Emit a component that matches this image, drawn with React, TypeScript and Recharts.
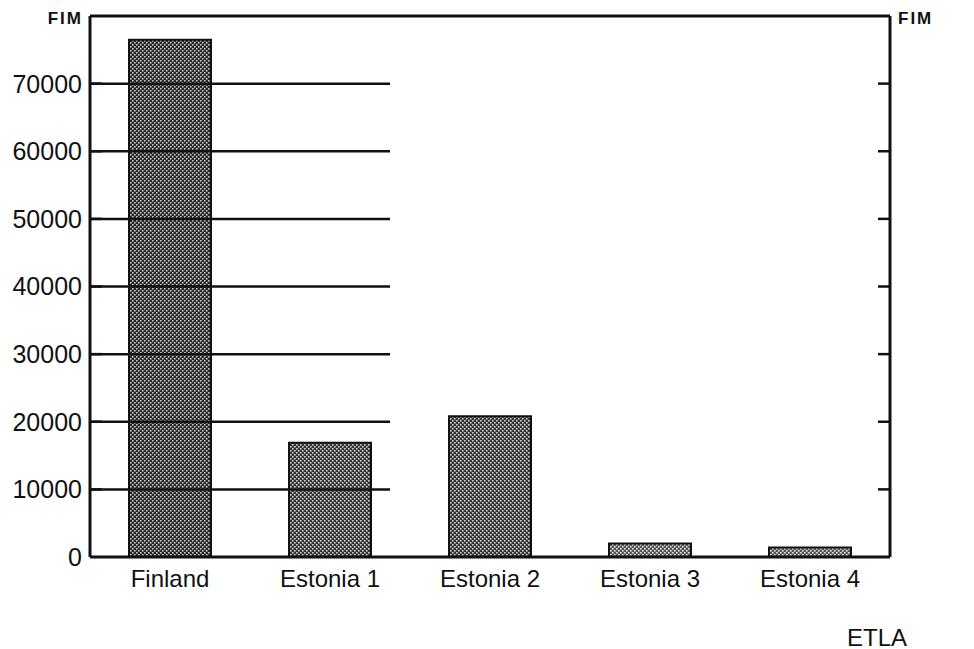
import React from 'react';
import { BarChart, Bar, XAxis, YAxis, Cell, ReferenceLine } from 'recharts';

// Kategoriat ja arvot (FIM), luettu kuvasta
const categories = ['Finland', 'Estonia 1', 'Estonia 2', 'Estonia 3', 'Estonia 4'];
const values = [76500, 16900, 20800, 2000, 1400];
const yTicks = [0, 10000, 20000, 30000, 40000, 50000, 60000, 70000];
const patterns = ['dotsDark', 'dotsMid', 'dotsMid', 'dotsLight', 'dotsLight'];

const data = categories.map((name, i) => ({ name, value: values[i] }));

const FONT = '"Liberation Sans", Arial, Helvetica, sans-serif';
const TICK = 12;
const tickStyle = { fontSize: 25, fontFamily: FONT, fill: '#111' };

// Sisäänpäin osoittavat tickit molemmille pystyakseleille
const InnerTicks = (props: any) => {
  const { x1, x2, y1 } = props;
  return (
    <g>
      <line x1={x1} x2={x1 + TICK} y1={y1} y2={y1} stroke="#111" strokeWidth={2.5} />
      <line x1={x2 - TICK} x2={x2} y1={y1} y2={y1} stroke="#111" strokeWidth={2.5} />
    </g>
  );
};

const Pattern = ({ id, bg, dot }: { id: string; bg: string; dot: string }) => (
  <pattern id={id} width={4} height={4} patternUnits="userSpaceOnUse">
    <rect width={4} height={4} fill={bg} />
    <rect x={0} y={0} width={1.6} height={1.6} fill={dot} />
    <rect x={2} y={2} width={1.6} height={1.6} fill={dot} />
  </pattern>
);

export default function App() {
  return (
    <div style={{ position: 'relative', marginLeft: -8, marginTop: -8, width: 974, height: 649 }}>
      <BarChart width={974} height={649} data={data}
        margin={{ top: 16, right: 0, bottom: 0, left: 0 }} barSize={82}>
        <defs>
          <Pattern id="dotsDark" bg="#262626" dot="#c8c8c8" />
          <Pattern id="dotsMid" bg="#333" dot="#d0d0d0" />
          <Pattern id="dotsLight" bg="#555" dot="#e6e6e6" />
        </defs>
        <XAxis dataKey="name" height={92} tickSize={0} tickMargin={13}
          axisLine={{ stroke: '#111', strokeWidth: 3 }}
          tick={{ fontSize: 24, fontFamily: FONT, fill: '#111' }} />
        <XAxis xAxisId="frame" type="number" domain={[0, 100]} hide />
        <YAxis yAxisId="left" orientation="left" width={90} domain={[0, 80000]} ticks={yTicks}
          tickSize={0} tickMargin={8} tick={tickStyle} tickLine={false}
          axisLine={{ stroke: '#111', strokeWidth: 3 }} />
        <YAxis yAxisId="right" orientation="right" width={84} domain={[0, 80000]} ticks={yTicks}
          tickSize={0} tickMargin={6} tick={tickStyle} tickLine={false}
          axisLine={{ stroke: '#111', strokeWidth: 3 }} />
        <Bar yAxisId="left" dataKey="value" stroke="#111" strokeWidth={2} isAnimationActive={false}>
          {data.map((entry, i) => (
            <Cell key={entry.name} fill={`url(#${patterns[i]})`} />
          ))}
        </Bar>
        <ReferenceLine yAxisId="left" y={80000} stroke="#111" strokeWidth={3} />
        {yTicks.filter((v) => v > 0).map((v) => (
          <ReferenceLine key={`t${v}`} yAxisId="left" y={v} stroke="none" shape={InnerTicks} />
        ))}
        {yTicks.filter((v) => v > 0).map((v) => (
          <ReferenceLine key={`s${v}`} xAxisId="frame" yAxisId="left" ifOverflow="visible"
            segment={[{ x: 0, y: v }, { x: 1.5, y: v }]} stroke="#111" strokeWidth={2.5} />
        ))}
      </BarChart>
      <div style={{ position: 'absolute', right: 974 - 83, top: 9, fontSize: 17, fontWeight: 'bold',
        letterSpacing: 2, fontFamily: FONT, color: '#111', lineHeight: '20px' }}>FIM</div>
      <div style={{ position: 'absolute', left: 898, top: 9, fontSize: 17, fontWeight: 'bold',
        letterSpacing: 2, fontFamily: FONT, color: '#111', lineHeight: '20px' }}>FIM</div>
      <div style={{ position: 'absolute', left: 847, top: 624, fontSize: 24,
        fontFamily: FONT, color: '#111', lineHeight: '28px' }}>ETLA</div>
    </div>
  );
}
